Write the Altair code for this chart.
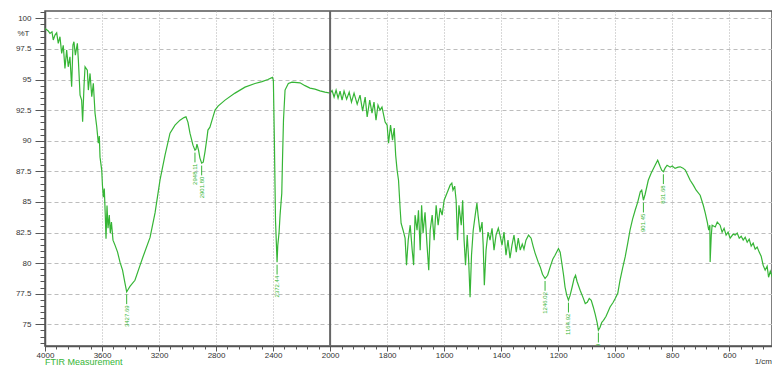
import altair as alt
import pandas as pd

# ---- spectrum, 4000-2000 1/cm (compressed half of the axis) ----
wn_high = [4000, 3979, 3965, 3951, 3942, 3930, 3918, 3907, 3895, 3883, 3872, 3860, 3848, 3837, 3825,
           3813, 3804, 3797, 3787, 3773, 3766, 3754, 3743, 3736, 3726, 3719, 3703, 3696, 3684, 3672,
           3661, 3649, 3637, 3626, 3619, 3614, 3602, 3597, 3591, 3584, 3577, 3572, 3565, 3558, 3549,
           3542, 3534, 3523, 3509, 3491, 3474, 3456, 3439, 3427, 3416, 3404, 3369, 3334, 3313, 3263,
           3228, 3193, 3158, 3123, 3088, 3053, 3025, 3011, 2997, 2983, 2962, 2948, 2941, 2934, 2923,
           2913, 2901, 2890, 2878, 2864, 2857, 2843, 2822, 2807, 2786, 2737, 2667, 2597, 2527, 2478,
           2436, 2405, 2398, 2391, 2383, 2372, 2367, 2358, 2351, 2339, 2334, 2327, 2316, 2293, 2267,
           2211, 2176, 2141, 2106, 2071, 2036]
t_high = [99.18, 98.99, 98.77, 98.9, 98.23, 98.63, 98.82, 97.96, 98.5, 97.14, 97.8, 95.91, 97.41, 96.04, 96.86,
          94.41, 97.82, 98.09, 97.0, 97.96, 96.59, 93.73, 93.32, 91.55, 94.55, 96.04, 95.77, 94.14, 95.5, 93.59,
          94.69, 92.26, 91.14, 89.8, 90.38, 88.66, 87.6, 86.37, 85.39, 86.1, 83.9, 82.0, 84.7, 82.85, 83.92,
          82.45, 83.35, 81.88, 81.47, 80.9, 80.08, 79.43, 78.36, 77.65, 77.87, 78.1, 78.6, 79.8, 80.5, 82.1,
          84.1, 86.8, 88.82, 90.62, 91.27, 91.68, 91.89, 91.95, 91.5, 90.62, 89.64, 89.23, 89.31, 89.72, 89.23,
          88.58, 88.17, 88.25, 89.07, 90.21, 90.87, 91.11, 91.93, 92.5, 92.83, 93.32, 93.89, 94.38, 94.68, 94.83,
          95.0, 95.18, 94.96, 90.05, 83.5, 80.07, 81.46, 82.5, 83.92, 85.7, 88.4, 91.68, 94.14, 94.68, 94.79,
          94.73, 94.5, 94.3, 94.22, 94.08, 93.97]

# ---- spectrum, 2000-400 1/cm (expanded half of the axis) ----
wn_low = [2000, 1993, 1986, 1979, 1972, 1965, 1958, 1951, 1942, 1933, 1925, 1916, 1905, 1895, 1886,
          1877, 1870, 1861, 1853, 1846, 1839, 1832, 1825, 1818, 1807, 1800, 1795, 1788, 1781, 1775,
          1770, 1765, 1760, 1754, 1751, 1744, 1737, 1732, 1726, 1719, 1712, 1707, 1702, 1695, 1690,
          1684, 1679, 1674, 1667, 1660, 1654, 1649, 1642, 1635, 1628, 1621, 1614, 1607, 1600, 1593,
          1586, 1579, 1573, 1569, 1563, 1558, 1553, 1548, 1540, 1535, 1530, 1525, 1519, 1514, 1509,
          1504, 1498, 1491, 1485, 1481, 1474, 1467, 1463, 1459, 1453, 1446, 1439, 1432, 1425, 1418,
          1410, 1404, 1397, 1390, 1383, 1376, 1369, 1362, 1355, 1347, 1340, 1333, 1326, 1320, 1313,
          1304, 1295, 1288, 1281, 1270, 1263, 1255, 1246, 1237, 1228, 1219, 1211, 1199, 1193, 1187,
          1181, 1176, 1170, 1164, 1158, 1151, 1144, 1139, 1134, 1123, 1112, 1105, 1098, 1091, 1084,
          1077, 1070, 1063, 1059, 1053, 1047, 1041, 1032, 1018, 1007, 1000, 991, 983, 974, 965,
          956, 948, 939, 930, 921, 912, 907, 901, 895, 884, 874, 860, 851, 842, 837,
          831, 825, 818, 807, 800, 790, 779, 772, 762, 754, 744, 737, 726, 716, 702,
          691, 684, 677, 672, 668, 667, 663, 660, 649, 642, 632, 625, 618, 611, 604,
          597, 586, 579, 572, 565, 558, 551, 544, 537, 530, 523, 516, 509, 502, 495,
          488, 481, 474, 467, 462, 456, 449, 442, 435, 430, 425, 421]
t_low = [93.89, 94.1, 93.57, 94.14, 93.48, 94.06, 93.32, 94.06, 93.4, 93.97, 93.16, 93.89, 92.99, 93.73, 92.42,
         93.56, 91.95, 93.32, 92.26, 93.16, 91.68, 92.91, 92.5, 92.75, 91.52, 91.28, 89.8, 91.28, 90.05, 91.03,
         88.82, 87.6, 86.77, 84.32, 83.26, 82.69, 82.04, 79.84, 81.88, 83.1, 81.06, 79.84, 83.92, 82.69, 84.32,
         81.06, 84.73, 82.45, 84.16, 81.47, 79.43, 82.69, 83.92, 81.88, 84.73, 83.1, 84.49, 83.92, 85.14, 85.55,
         85.96, 86.37, 86.53, 85.96, 86.29, 85.14, 81.88, 84.73, 83.1, 85.14, 81.88, 79.84, 82.29, 80.24, 77.21,
         80.65, 82.69, 83.92, 84.9, 83.92, 82.53, 83.35, 81.47, 78.2, 81.06, 82.53, 81.88, 82.85, 81.06, 82.29,
         82.85, 82.29, 81.47, 82.53, 80.65, 81.88, 80.4, 81.47, 82.29, 80.9, 82.04, 81.06, 81.55, 81.14, 81.88,
         82.29, 82.04, 81.39, 80.82, 80.08, 79.69, 79.09, 78.74, 79.01, 79.69, 80.32, 80.65, 81.19, 80.9, 79.97,
         79.01, 78.05, 77.38, 76.97, 77.38, 78.05, 78.77, 79.01, 78.52, 77.79, 77.14, 76.7, 76.8, 77.11, 76.97,
         76.42, 75.82, 75.09, 74.52, 74.76, 75.17, 75.33, 75.66, 76.42, 76.8, 77.11, 77.54, 78.61, 79.59, 80.51,
         81.63, 82.69, 83.59, 84.32, 84.98, 85.82, 85.96, 85.14, 85.63, 86.77, 87.35, 88.0, 88.41, 87.87, 87.6,
         87.46, 87.76, 88.0, 87.84, 87.93, 87.74, 87.84, 87.87, 87.76, 87.6, 87.11, 86.77, 86.37, 85.96, 85.55,
         84.73, 84.08, 83.35, 82.69, 83.1, 80.1, 82.29, 83.1, 82.96, 83.35, 83.1, 82.53, 82.85, 82.29, 82.53,
         82.04, 82.37, 82.29, 82.45, 82.04, 82.2, 81.88, 82.12, 81.71, 81.96, 81.39, 81.63, 81.14, 81.31, 80.9,
         80.57, 79.83, 79.43, 79.75, 78.85, 79.34, 78.87, 79.26, 78.77, 79.26, 78.2, 76.97]

# ---- peak picks ----
peak_wn = [3427, 2948, 2901, 2372, 1246, 1164, 1059, 901, 831]
peak_t = [77.65, 89.23, 88.17, 80.07, 78.74, 76.97, 74.52, 85.14, 87.46]
peak_label = ["3427.69", "2948.11", "2901.80", "2372.44", "1246.02", "1164.92", "1059.09", "901.45", "831.68"]

break_wn = [2000]

GREEN = "#36b536"
AXIS = "#555555"
FONT = "Liberation Sans"
W, H = 727, 335

spectrum = pd.DataFrame({"wn": wn_high + wn_low, "T": t_high + t_low})
peaks = pd.DataFrame({"wn": peak_wn, "T": peak_t, "label": peak_label})
breaks = pd.DataFrame({"wn": break_wn})

# position on the broken axis: 4000-2000 is drawn at half scale
POS = "datum.wn > 2000 ? 2000 + (datum.wn - 2000) / 2 : datum.wn"

x_major = "datum.value % 200 == 0"
x_axis = alt.Axis(
    values=list(range(480, 3001, 40)),
    tickCount=200,
    title=None,
    labelExpr=("datum.value % 200 == 0 ? (datum.value > 2000 ? '' + (2000 + (datum.value - 2000) * 2)"
               " : '' + datum.value) : ''"),
    labelOverlap=False,
    labelFlush=False,
    labelFont=FONT,
    labelFontSize=8,
    labelColor="#333333",
    labelPadding=0,
    tickColor=AXIS,
    tickSize={"condition": {"test": x_major, "value": 5}, "value": 3},
    domainColor=AXIS,
    domainWidth=1.5,
    grid=True,
    gridColor="#b0b0b0",
    gridDash=[1, 2],
    gridOpacity={"condition": {"test": x_major + " && datum.value != 2000 && datum.value != 3000", "value": 1},
                 "value": 0},
)

y_major = "datum.value % 2.5 == 0"
y_axis = alt.Axis(
    values=[73.5 + 0.5 * i for i in range(55)],
    tickCount=200,
    title="%T",
    titleAngle=0,
    titleX=-22,
    titleY=22,
    titleAlign="center",
    titleBaseline="middle",
    titleFont=FONT,
    titleFontSize=8,
    titleFontWeight="normal",
    titleColor="#333333",
    labelExpr="datum.value % 2.5 == 0 ? format(datum.value, '~g') : ''",
    labelOverlap=False,
    labelFlush=False,
    labelFont=FONT,
    labelFontSize=8,
    labelColor="#333333",
    labelPadding=4,
    tickColor=AXIS,
    tickSize={"condition": {"test": y_major, "value": 10}, "value": 5},
    domainColor=AXIS,
    domainWidth=1.5,
    grid=True,
    gridColor="#bdbdbd",
    gridDash=[4, 3],
    gridOpacity={"condition": {"test": y_major, "value": 1}, "value": 0},
)

xs = alt.Scale(domain=[450, 3000], reverse=True, nice=False, zero=False)
ys = alt.Scale(domain=[73.23, 100.6], nice=False, zero=False)

line = alt.Chart(spectrum).transform_calculate(p=POS).mark_line(
    color=GREEN, strokeWidth=1.2, clip=True
).encode(
    x=alt.X("p:Q", scale=xs, axis=x_axis),
    y=alt.Y("T:Q", scale=ys, axis=y_axis),
    order="p:Q",
)

brk = alt.Chart(breaks).transform_calculate(p=POS).mark_rule(color="#666666", strokeWidth=2).encode(
    x="p:Q",
)

leaders = alt.Chart(peaks).transform_calculate(
    p=POS, y1="datum.T - 0.2", y2="datum.T - 1.0"
).mark_rule(color=GREEN, strokeWidth=1, clip=True).encode(
    x="p:Q", y="y1:Q", y2="y2:Q"
)

labels = alt.Chart(peaks).transform_calculate(
    p=POS, yt="datum.T - 1.1"
).mark_text(color=GREEN, fontSize=6, font=FONT, angle=270, align="right", baseline="middle", clip=True).encode(
    x="p:Q", y="yt:Q", text="label:N"
)

foot = alt.Chart(pd.DataFrame({"t": ["FTIR Measurement"]})).mark_text(
    color=GREEN, fontSize=9, font=FONT, align="left", baseline="top"
).encode(text="t:N", x=alt.value(0), y=alt.value(347))

unit = alt.Chart(pd.DataFrame({"t": ["1/cm"]})).mark_text(
    color="#333333", fontSize=8, font=FONT, align="right", baseline="top"
).encode(text="t:N", x=alt.value(727), y=alt.value(347))

chart = alt.layer(line, brk, leaders, labels, foot, unit).properties(
    width=W, height=H,
    autosize=alt.AutoSizeParams(type="none"),
    padding={"left": 37, "top": 3, "right": 0, "bottom": 19},
    background="white",
).configure_view(stroke=AXIS, strokeWidth=1.5)

chart.save("out.html", embed_options={"renderer": "svg", "actions": False})
